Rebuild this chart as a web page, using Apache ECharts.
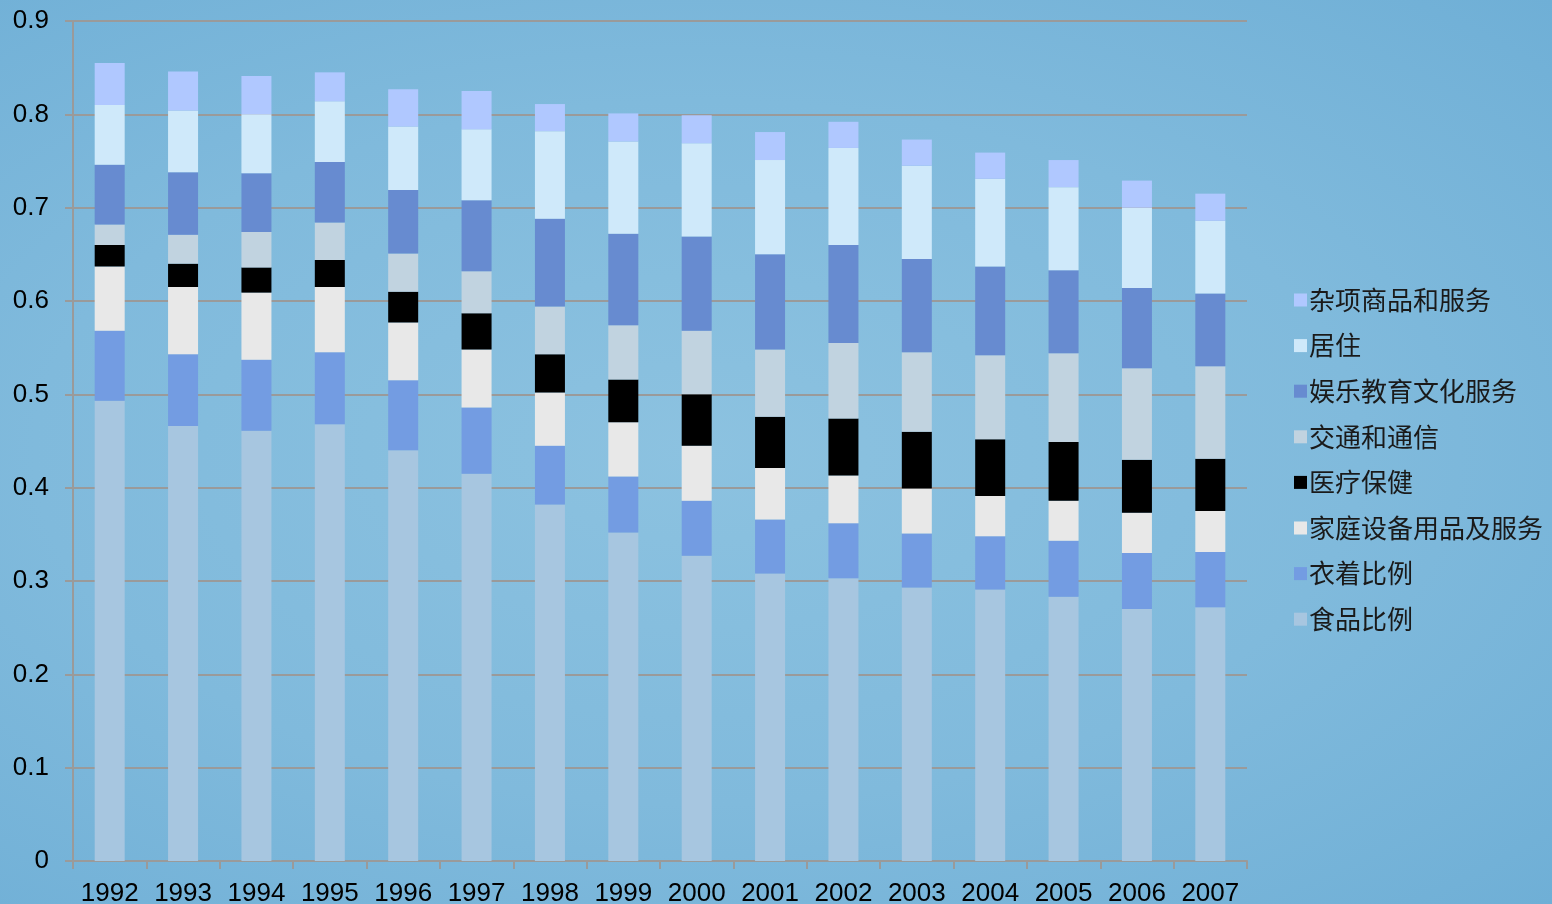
<!DOCTYPE html>
<html>
<head>
<meta charset="utf-8">
<style>
  html, body { margin: 0; padding: 0; }
  body {
    width: 1552px; height: 904px; overflow: hidden;
    background: radial-gradient(ellipse at 45% 50%, #8cc2e0 0%, #80badc 55%, #6fafd6 100%);
  }
  #chart { width: 1552px; height: 904px; }
</style>
<script src="https://cdn.jsdelivr.net/npm/echarts@6/dist/echarts.min.js"></script>
</head>
<body>
<div id="chart"></div>
<script>
const years = ["1992", "1993", "1994", "1995", "1996", "1997", "1998", "1999",
  "2000", "2001", "2002", "2003", "2004", "2005", "2006", "2007"];

// share of spending per category, bottom to top of each bar
const food = [0.493, 0.466, 0.461, 0.468, 0.440, 0.415, 0.382, 0.352,
  0.327, 0.308, 0.303, 0.293, 0.291, 0.283, 0.270, 0.272];
const clothing = [0.075, 0.077, 0.076, 0.077, 0.075, 0.071, 0.063, 0.060,
  0.059, 0.058, 0.059, 0.058, 0.057, 0.060, 0.060, 0.059];
const household = [0.069, 0.072, 0.072, 0.070, 0.062, 0.062, 0.057, 0.058,
  0.059, 0.055, 0.051, 0.048, 0.043, 0.043, 0.043, 0.044];
const medical = [0.023, 0.025, 0.027, 0.029, 0.033, 0.039, 0.041, 0.046,
  0.055, 0.055, 0.061, 0.061, 0.061, 0.063, 0.057, 0.056];
const transport = [0.022, 0.031, 0.038, 0.040, 0.041, 0.045, 0.051, 0.058,
  0.068, 0.072, 0.081, 0.085, 0.090, 0.095, 0.098, 0.099];
const recreation = [0.064, 0.067, 0.063, 0.065, 0.068, 0.076, 0.094, 0.098,
  0.101, 0.102, 0.105, 0.100, 0.095, 0.089, 0.086, 0.078];
const housing = [0.064, 0.066, 0.063, 0.065, 0.068, 0.076, 0.094, 0.099,
  0.100, 0.101, 0.104, 0.100, 0.094, 0.089, 0.086, 0.078];
const misc = [0.045, 0.042, 0.041, 0.031, 0.040, 0.041, 0.029, 0.030,
  0.030, 0.030, 0.028, 0.028, 0.028, 0.029, 0.029, 0.029];

const seriesDefs = [
  { name: "食品比例", data: food, color: "#a7c6e0" },
  { name: "衣着比例", data: clothing, color: "#739ce2" },
  { name: "家庭设备用品及服务", data: household, color: "#e8e8e8" },
  { name: "医疗保健", data: medical, color: "#000000" },
  { name: "交通和通信", data: transport, color: "#c1d3e0" },
  { name: "娱乐教育文化服务", data: recreation, color: "#678bd0" },
  { name: "居住", data: housing, color: "#cfe9fa" },
  { name: "杂项商品和服务", data: misc, color: "#b0c8ff" },
];

const chart = echarts.init(document.getElementById("chart"));

const options = {
  backgroundColor: "transparent",
  animation: false,
  textStyle: { fontFamily: "'Liberation Sans', 'Noto Sans CJK SC', sans-serif" },
  grid: {
    left: 73,
    right: 305,
    top: 21,
    bottom: 43,
    outerBoundsMode: "none",
  },
  legend: {
    orient: "vertical",
    left: 1289,
    top: 282,
    itemWidth: 13,
    itemHeight: 13,
    itemGap: 19.6,
    icon: "rect",
    data: seriesDefs.map((s) => s.name).reverse(),
    textStyle: {
      fontFamily: "'Noto Sans CJK SC', sans-serif",
      fontSize: 26,
      lineHeight: 26,
      color: "#1a1a1a",
      padding: [0, 0, 0, -3],
    },
  },
  xAxis: {
    type: "category",
    data: years,
    axisLine: { lineStyle: { color: "#9a9a9a", width: 2 } },
    axisTick: { show: true, length: 8, lineStyle: { color: "#9a9a9a", width: 2 } },
    axisLabel: {
      color: "#000",
      fontSize: 26,
      margin: 20,
      interval: 0,
    },
  },
  yAxis: {
    type: "value",
    min: 0,
    max: 0.9,
    interval: 0.1,
    axisLine: { show: true, lineStyle: { color: "#9a9a9a", width: 2 } },
    axisTick: { show: true, length: 8, lineStyle: { color: "#9a9a9a", width: 2 } },
    splitLine: { lineStyle: { color: "#9a9a9a", width: 2 } },
    axisLabel: {
      color: "#000",
      fontSize: 26,
      margin: 24,
      formatter: (v) => (v === 0 ? "0" : String(+v.toFixed(1))),
    },
  },
  series: seriesDefs.map((s) => ({
    name: s.name,
    type: "bar",
    stack: "total",
    data: s.data,
    barWidth: 30,
    itemStyle: { color: s.color },
  })),
};

chart.setOption(options);
</script>
</body>
</html>
